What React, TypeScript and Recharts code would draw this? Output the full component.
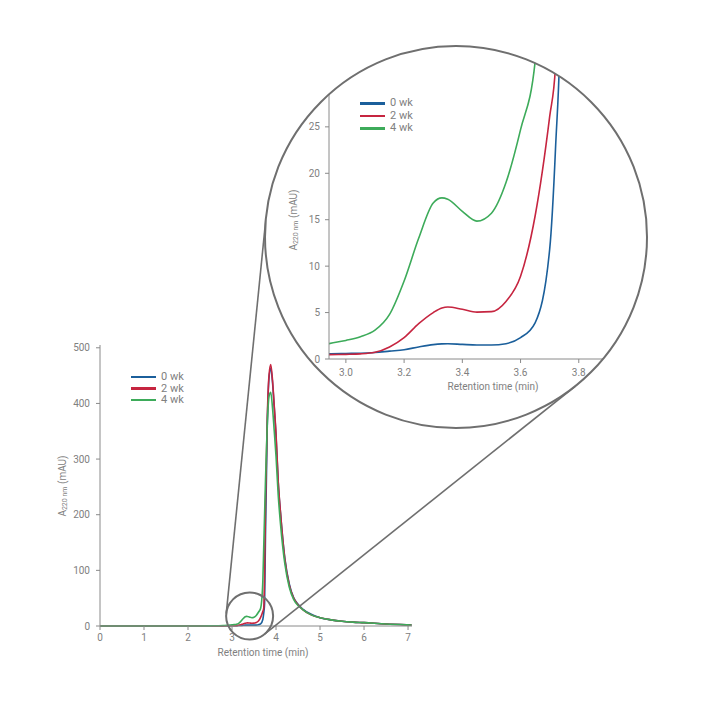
import React from 'react';
import { LineChart, Line, XAxis, YAxis, ReferenceDot } from 'recharts';

// retention time (min) and absorbance (mAU)
const retention = [0, 1, 2, 2.5, 2.8, 2.9, 2.942, 3.0, 3.05, 3.1, 3.15, 3.2, 3.25, 3.3, 3.33, 3.35, 3.4, 3.45, 3.5, 3.55, 3.6, 3.65, 3.7, 3.72, 3.74, 3.76, 3.8, 3.84, 3.88, 3.92, 3.96, 4.0, 4.05, 4.1, 4.2, 4.3, 4.4, 4.5, 4.6, 4.8, 5.0, 5.25, 5.5, 5.75, 6.0, 6.5, 7.0, 7.08];
const wk0 = [0, 0, 0, 0.1, 0.3, 0.45, 0.57, 0.6, 0.62, 0.7, 0.85, 1.0, 1.3, 1.55, 1.63, 1.65, 1.57, 1.5, 1.5, 1.65, 2.3, 3.9, 11.8, 22.6, 40, 160, 355, 445, 463, 438, 392, 342, 258, 205, 122, 76, 51, 39, 31, 21, 15, 11, 8.5, 7, 6, 3.5, 2, 1.8];
const wk2 = [0, 0, 0, 0.1, 0.3, 0.4, 0.47, 0.5, 0.55, 0.72, 1.3, 2.3, 3.8, 5.0, 5.5, 5.6, 5.35, 5.05, 5.1, 6.2, 8.9, 15.4, 26.1, 31.5, 95, 215, 370, 450, 470, 442, 395, 345, 260, 205, 120, 74, 50, 38, 30, 20, 15, 11, 8.5, 7, 6, 3.5, 2, 1.8];
const wk4 = [0, 0, 0, 0.3, 0.8, 1.2, 1.65, 2.0, 2.4, 3.1, 4.8, 8.4, 13.0, 16.8, 17.35, 17.2, 15.9, 14.85, 15.7, 19.0, 24.7, 32, 80, 140, 200, 260, 360, 412, 420, 392, 350, 305, 235, 185, 112, 70, 48, 37, 30, 20, 15, 11, 8.5, 7, 6, 3.5, 2, 1.8];

const seriesNames = ['0 wk', '2 wk', '4 wk'];
const seriesKeys = ['wk0', 'wk2', 'wk4'];
const seriesColors = ['#1b5f9b', '#c62540', '#3dab5a'];

const mainXTicks = [0, 1, 2, 3, 4, 5, 6, 7];
const mainYTicks = [0, 100, 200, 300, 400, 500];
const insetXTicks = [3.0, 3.2, 3.4, 3.6, 3.8, 4.0];
const insetYTicks = [0, 5, 10, 15, 20, 25, 30];

const data = retention.map((t, i) => ({ t, wk0: wk0[i], wk2: wk2[i], wk4: wk4[i] }));

const W = 716;
const H = 701;
const FONT = 'Roboto, "Open Sans", sans-serif';
const GREY = '#808080';
const AXIS = '#8a8a8a';
const RING = '#6f6f6f';

// plot boxes (page pixels)
const MAIN = { left: 100, right: 412, top: 345, bottom: 626, xMax: 7.09, yMax: 505 };
const INSET = { left: 329, right: 637, top: 34, bottom: 359, xMin: 2.942, xMax: 4.0, yMax: 35 };
const BIG = { cx: 456, cy: 237, r: 191 };
const ZOOM = { t: 3.4, v: 18, r: 23.5 };

const small = {
  cx: MAIN.left + (ZOOM.t / MAIN.xMax) * (MAIN.right - MAIN.left),
  cy: MAIN.bottom - (ZOOM.v / MAIN.yMax) * (MAIN.bottom - MAIN.top),
  r: ZOOM.r,
};

// external tangents between the small and the big circle
function tangents() {
  const dx = BIG.cx - small.cx;
  const dy = BIG.cy - small.cy;
  const d = Math.hypot(dx, dy);
  const ux = dx / d, uy = dy / d;
  const px = -uy, py = ux;
  const k = -(BIG.r - small.r) / d;
  const s = Math.sqrt(1 - k * k);
  return [1, -1].map((sign) => {
    const nx = k * ux + sign * s * px;
    const ny = k * uy + sign * s * py;
    return {
      x1: small.cx + small.r * nx, y1: small.cy + small.r * ny,
      x2: BIG.cx + BIG.r * nx, y2: BIG.cy + BIG.r * ny,
    };
  });
}

const LegendBox = ({ left, top, gap }: { left: number; top: number; gap: number }) => (
  <div style={{ position: 'absolute', left, top, fontFamily: FONT, fontSize: 11, color: GREY }}>
    {seriesNames.map((name, i) => (
      <div key={name} style={{ display: 'flex', alignItems: 'center', height: gap, lineHeight: `${gap}px` }}>
        <span style={{ display: 'inline-block', width: 25, height: 2.5, background: seriesColors[i], marginRight: 5 }} />
        <span>{name}</span>
      </div>
    ))}
  </div>
);

const AxisTitleY = ({ x, y }: { x: number; y: number }) => (
  <text x={x} y={y} transform={`rotate(-90 ${x} ${y})`} textAnchor="middle" dominantBaseline="middle"
    fontFamily={FONT} fontSize={10} fill={GREY}>
    A<tspan fontSize={7} dy={2}>220 nm</tspan><tspan dy={-2}> (mAU)</tspan>
  </text>
);

const lines = (w: number) =>
  seriesKeys.map((k, i) => (
    <Line key={k} type="monotone" dataKey={k} name={seriesNames[i]} stroke={seriesColors[i]}
      strokeWidth={w} dot={false} isAnimationActive={false} />
  ));

const tickStyle = { fill: GREY, fontSize: 10, fontFamily: FONT };

export default function App() {
  const tl = tangents();
  return (
    <div style={{ position: 'absolute', left: 0, top: 0, width: W, height: H, background: '#fff' }}>
      {/* main chromatogram */}
      <div style={{ position: 'absolute', left: 0, top: 0 }}>
        <LineChart width={W} height={H} data={data}
          margin={{ top: MAIN.top, left: MAIN.left - 60, right: W - MAIN.right, bottom: H - MAIN.bottom - 30 }}>
          <XAxis dataKey="t" type="number" domain={[0, MAIN.xMax]} ticks={mainXTicks} height={30}
            stroke={AXIS} tickSize={4} tickMargin={4} tick={tickStyle} />
          <YAxis type="number" domain={[0, MAIN.yMax]} ticks={mainYTicks} width={60}
            stroke={AXIS} tickSize={4} tickMargin={6} tick={tickStyle} />
          {lines(1.6)}
          <ReferenceDot x={ZOOM.t} y={ZOOM.v} r={ZOOM.r} fill="none" stroke={RING} strokeWidth={2} ifOverflow="visible" />
        </LineChart>
        <LegendBox left={131} top={371} gap={11.7} />
      </div>

      {/* connector lines and titles */}
      <svg width={W} height={H} style={{ position: 'absolute', left: 0, top: 0, pointerEvents: 'none' }}>
        {tl.map((l, i) => (
          <line key={i} x1={l.x1} y1={l.y1} x2={l.x2} y2={l.y2} stroke={RING} strokeWidth={1.6} />
        ))}
        <AxisTitleY x={63} y={486} />
        <text x={(MAIN.left + MAIN.right) / 2 + 7} y={653} textAnchor="middle" dominantBaseline="middle"
          fontFamily={FONT} fontSize={10} fill={GREY}>Retention time (min)</text>
      </svg>

      {/* magnified inset, clipped to the big circle */}
      <div style={{
        position: 'absolute', left: 0, top: 0, width: W, height: H, background: '#fff',
        clipPath: `circle(${BIG.r}px at ${BIG.cx}px ${BIG.cy}px)`,
      }}>
        <LineChart width={W} height={H} data={data}
          margin={{ top: INSET.top, left: INSET.left - 60, right: W - INSET.right, bottom: H - INSET.bottom - 30 }}>
          <XAxis dataKey="t" type="number" domain={[INSET.xMin, INSET.xMax]} allowDataOverflow ticks={insetXTicks}
            tickFormatter={(v: number) => v.toFixed(1)} height={30}
            stroke={AXIS} tickSize={4} tickMargin={6} tick={tickStyle} />
          <YAxis type="number" domain={[0, INSET.yMax]} allowDataOverflow ticks={insetYTicks} width={60}
            stroke={AXIS} tickSize={4} tickMargin={5} tick={tickStyle} />
          {lines(1.6)}
        </LineChart>
        <svg width={W} height={H} style={{ position: 'absolute', left: 0, top: 0, pointerEvents: 'none' }}>
          <AxisTitleY x={294} y={220} />
          <text x={493} y={387} textAnchor="middle" dominantBaseline="middle"
            fontFamily={FONT} fontSize={10} fill={GREY}>Retention time (min)</text>
        </svg>
        <LegendBox left={360} top={97} gap={12.5} />
      </div>

      <svg width={W} height={H} style={{ position: 'absolute', left: 0, top: 0, pointerEvents: 'none' }}>
        <circle cx={BIG.cx} cy={BIG.cy} r={BIG.r} fill="none" stroke={RING} strokeWidth={2} />
      </svg>
    </div>
  );
}
